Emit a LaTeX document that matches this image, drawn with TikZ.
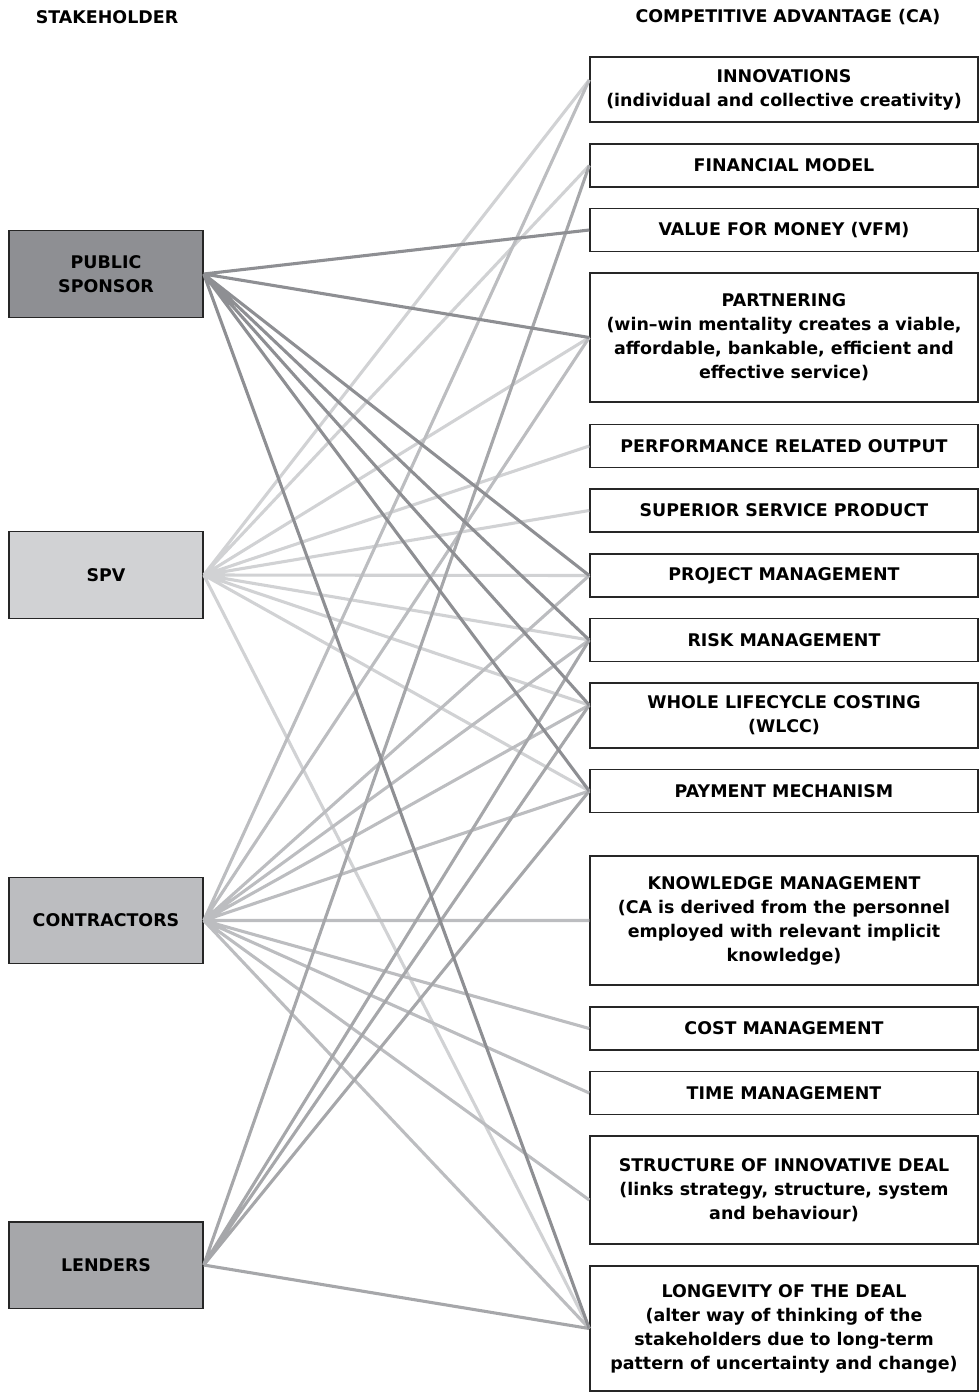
\documentclass[tikz,border=0pt]{standalone}
\usepackage{fontspec}
\setmainfont{DejaVu Sans}

\definecolor{psgrey}{HTML}{8E8F93}
\definecolor{spvgrey}{HTML}{D1D2D4}
\definecolor{congrey}{HTML}{BCBDC0}
\definecolor{lengrey}{HTML}{A6A7AA}

\tikzset{
  stake/.style={draw=black!85, line width=1pt, minimum width=4.85cm, minimum height=2.16cm, align=center, inner sep=0pt},
  adv/.style={draw=black!85, line width=1pt, minimum width=9.7cm, minimum height=1.075cm, align=center, inner sep=0pt},
  link/.style={line width=2.2pt},
}

\begin{document}
\begin{tikzpicture}[x=0.025cm, y=-0.025cm, font=\fontsize{12.4}{17.1}\selectfont\bfseries]
    \useasboundingbox (0,0) rectangle (979,1393);

    % headings
    \node (hstake) at (107,17) {STAKEHOLDER};
    \node (hca) at (788,17) {COMPETITIVE ADVANTAGE (CA)};

    % stakeholders on the left
    \node[stake, fill=psgrey] (ps) at (106,274) {PUBLIC\\SPONSOR};
    \node[stake, fill=spvgrey] (spv) at (106,575) {SPV};
    \node[stake, fill=congrey] (con) at (106,920.5) {CONTRACTORS};
    \node[stake, fill=lengrey] (len) at (106,1265) {LENDERS};

    % competitive advantages on the right
    \node[adv, minimum height=1.625cm] (inno) at (784,89.5) {INNOVATIONS\\(individual and collective creativity)};
    \node[adv] (finmod) at (784,165.5) {FINANCIAL MODEL};
    \node[adv] (vfm) at (784,230) {VALUE FOR MONEY (VFM)};
    \node[adv, minimum height=3.225cm] (partner) at (784,337.5) {PARTNERING\\(win--win mentality creates a viable,\\affordable, bankable, efficient and\\effective service)};
    \node[adv] (perform) at (784,446) {PERFORMANCE RELATED OUTPUT};
    \node[adv] (superior) at (784,510.5) {SUPERIOR SERVICE PRODUCT};
    \node[adv] (projmgmt) at (784,575.5) {PROJECT MANAGEMENT};
    \node[adv] (riskmgmt) at (784,640) {RISK MANAGEMENT};
    \node[adv, minimum height=1.625cm] (wlcc) at (784,715.5) {WHOLE LIFECYCLE COSTING\\(WLCC)};
    \node[adv] (payment) at (784,791) {PAYMENT MECHANISM};
    \node[adv, minimum height=3.225cm] (knowledge) at (784,920.5) {KNOWLEDGE MANAGEMENT\\(CA is derived from the personnel\\employed with relevant implicit\\knowledge)};
    \node[adv] (cost) at (784,1028.5) {COST MANAGEMENT};
    \node[adv] (time) at (784,1093) {TIME MANAGEMENT};
    \node[adv, minimum height=2.7cm] (structure) at (784,1190) {STRUCTURE OF INNOVATIVE DEAL\\(links strategy, structure, system\\and behaviour)};
    \node[adv, minimum height=3.125cm] (longevity) at (784,1328.5) {LONGEVITY OF THE DEAL\\(alter way of thinking of the\\stakeholders due to long-term\\pattern of uncertainty and change)};

    % links SPV
    \draw[link, spvgrey] (spv.east) -- ([yshift=0.24cm]inno.west)
        (spv.east) -- (finmod.west) (spv.east) -- (partner.west)
        (spv.east) -- (perform.west) (spv.east) -- (superior.west)
        (spv.east) -- (projmgmt.west) (spv.east) -- (riskmgmt.west)
        (spv.east) -- ([yshift=0.26cm]wlcc.west) (spv.east) -- (payment.west)
        (spv.east) -- (longevity.west);

    % links contractors
    \draw[link, congrey] (con.east) -- ([yshift=0.24cm]inno.west)
        (con.east) -- (partner.west) (con.east) -- (projmgmt.west)
        (con.east) -- (riskmgmt.west) (con.east) -- ([yshift=0.26cm]wlcc.west)
        (con.east) -- (payment.west) (con.east) -- (knowledge.west)
        (con.east) -- (cost.west) (con.east) -- (time.west)
        (con.east) -- ([yshift=-0.25cm]structure.west) (con.east) -- (longevity.west);

    % links lenders
    \draw[link, lengrey] (len.east) -- (finmod.west)
        (len.east) -- (riskmgmt.west) (len.east) -- ([yshift=0.26cm]wlcc.west)
        (len.east) -- (payment.west) (len.east) -- (longevity.west);

    % links public sponsor
    \draw[link, psgrey] (ps.east) -- (vfm.west)
        (ps.east) -- (partner.west) (ps.east) -- (projmgmt.west)
        (ps.east) -- (riskmgmt.west) (ps.east) -- ([yshift=0.26cm]wlcc.west)
        (ps.east) -- (payment.west) (ps.east) -- (longevity.west);
\end{tikzpicture}
\end{document}
